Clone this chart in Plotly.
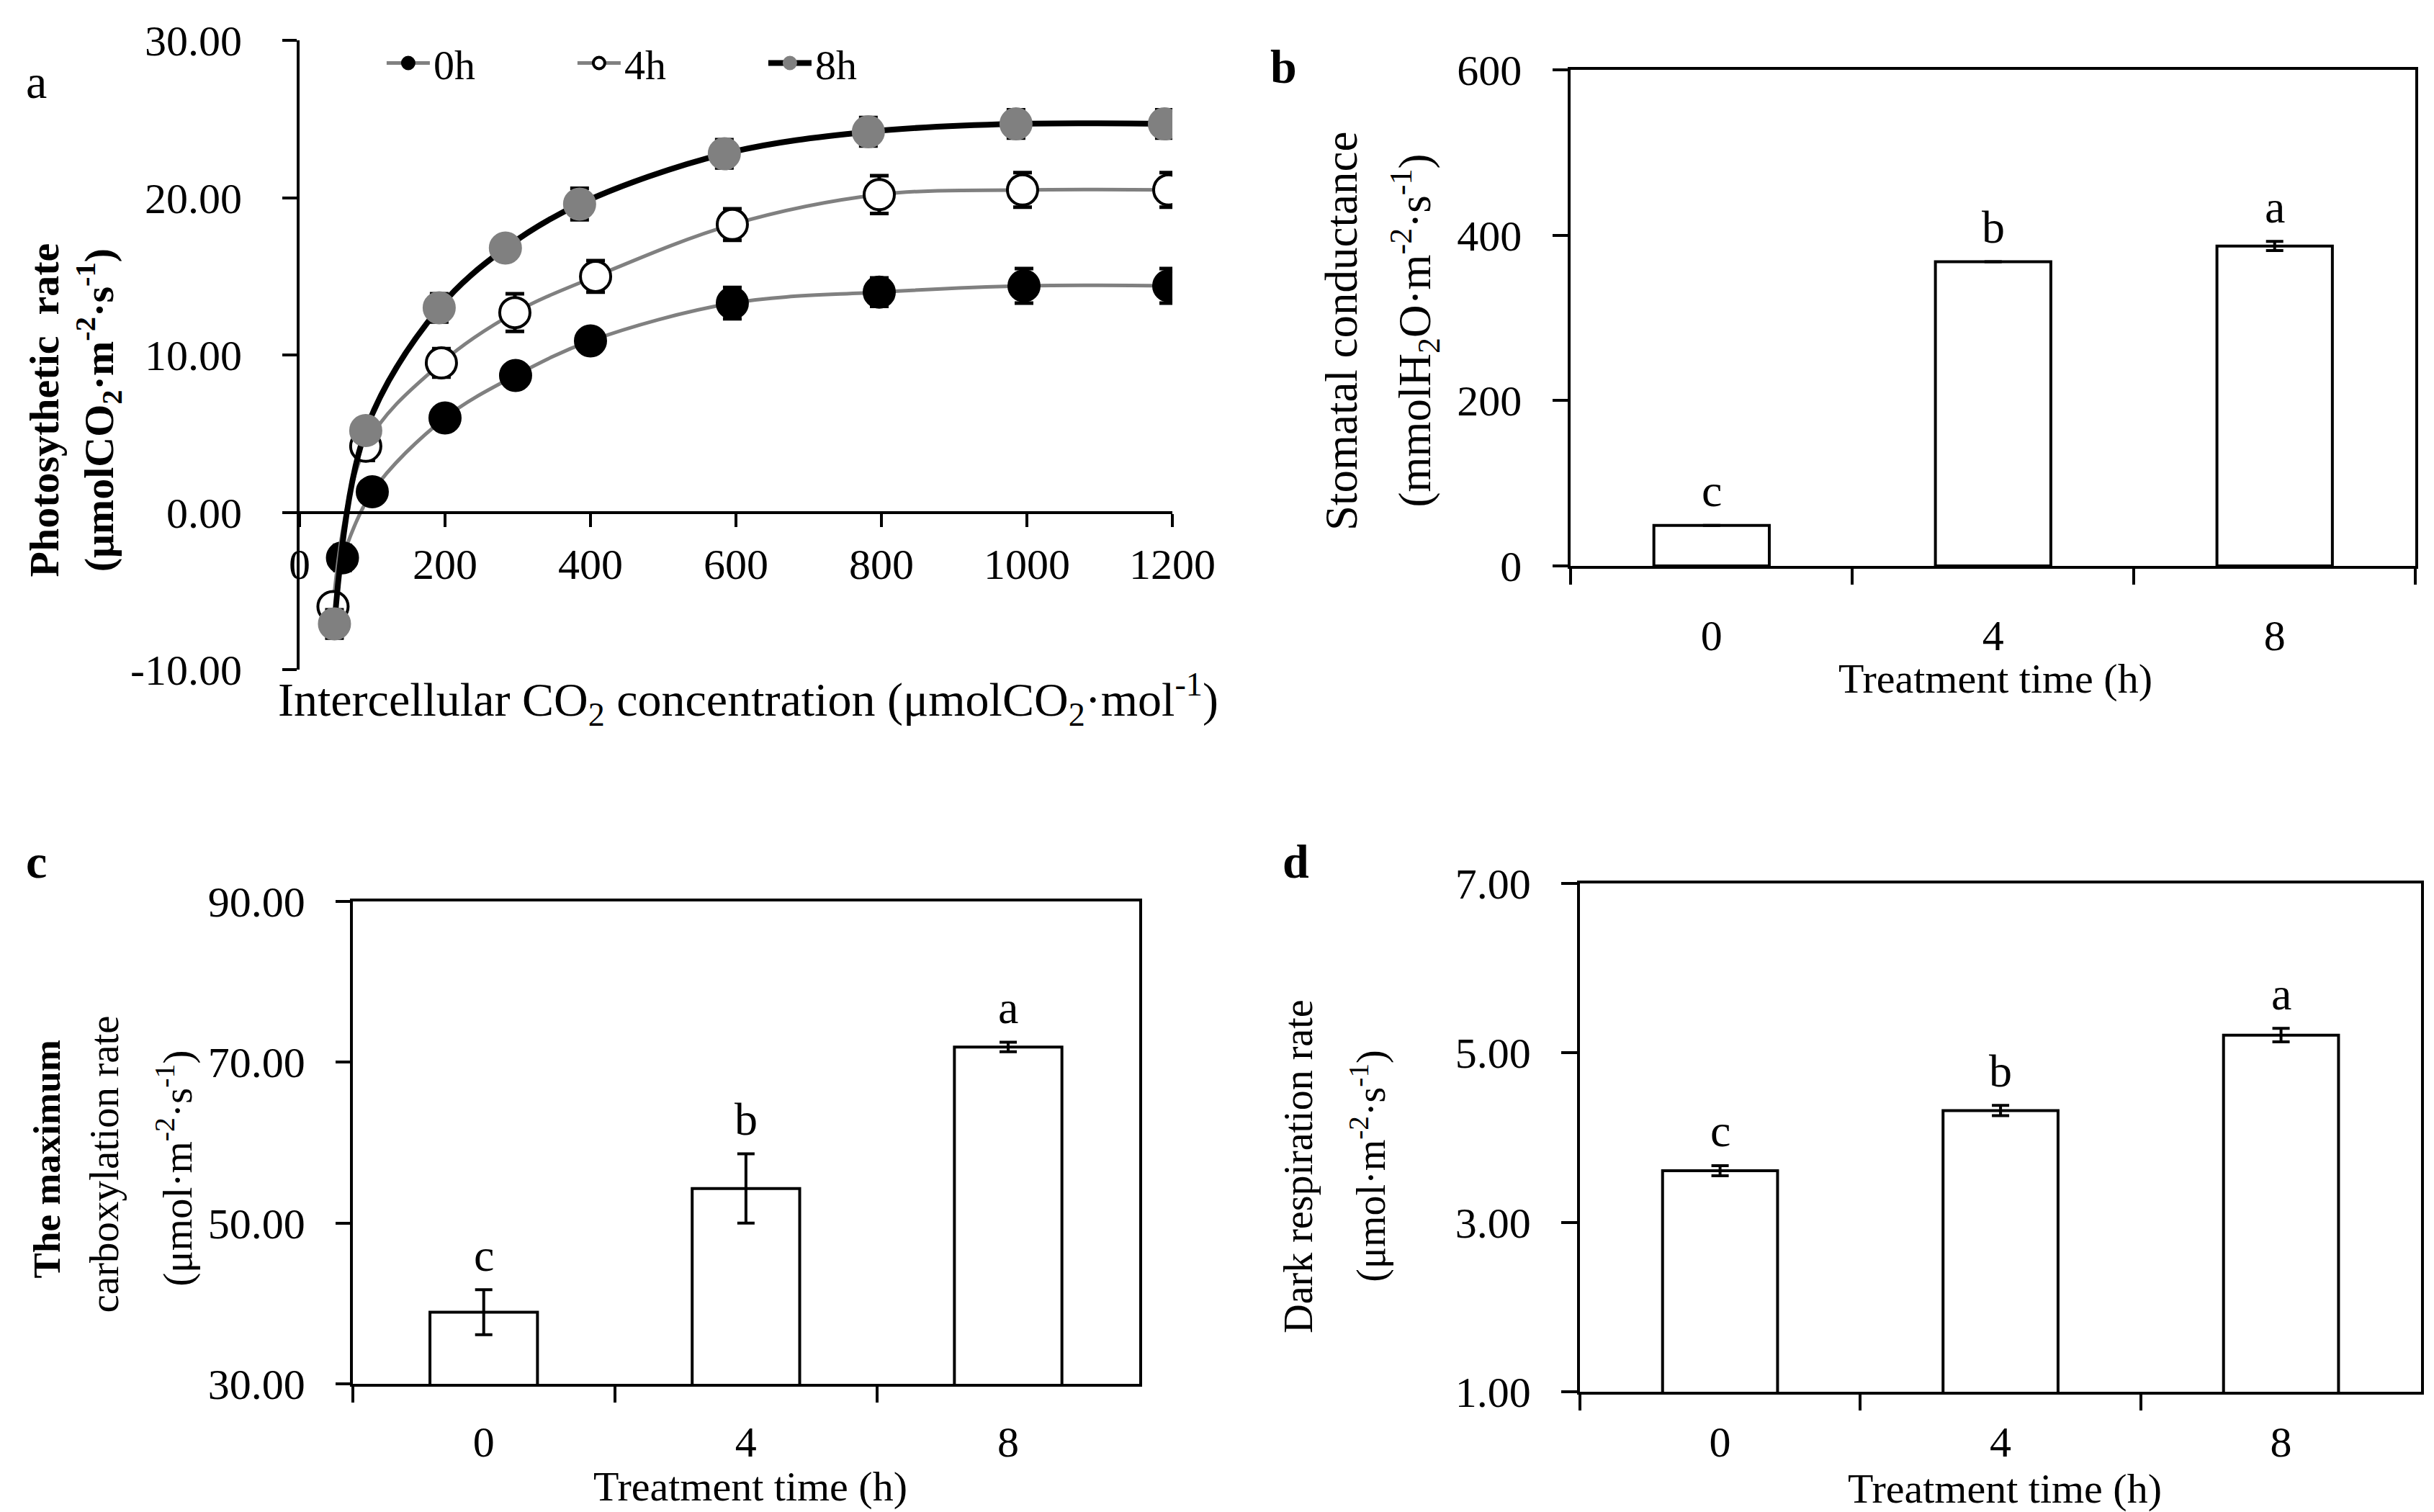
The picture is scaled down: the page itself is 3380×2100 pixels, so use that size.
import plotly.graph_objects as go

FONT = "Liberation Serif, Times New Roman, serif"
GRAY = "#808080"

# panel a: CO2 response curves
ci_0h = [59, 100, 200, 297, 400, 595, 797, 996, 1195]
pn_0h = [-2.9, 1.3, 6.0, 8.7, 10.9, 13.3, 14.0, 14.4, 14.4]
err_0h = [0.8, 0.6, 0.7, 0.7, 0.7, 1.0, 0.9, 1.1, 1.1]

ci_4h = [46, 91, 195, 296, 407, 595, 797, 994, 1195]
pn_4h = [-6.0, 4.2, 9.5, 12.7, 15.0, 18.3, 20.2, 20.5, 20.5]
err_4h = [0.6, 0.9, 0.9, 1.2, 1.0, 1.0, 1.2, 1.1, 1.1]

ci_8h = [48, 91, 192, 283, 385, 584, 782, 985, 1189]
pn_8h = [-7.1, 5.2, 13.0, 16.8, 19.6, 22.8, 24.2, 24.7, 24.7]
err_8h = [0.9, 0.5, 0.9, 0.6, 1.0, 0.9, 0.9, 0.9, 0.9]

a_yticks = [-10, 0, 10, 20, 30]
a_yticktext = ["-10.00", "0.00", "10.00", "20.00", "30.00"]
a_xticks = [0, 200, 400, 600, 800, 1000, 1200]

# panels b-d: bar charts
times = ["0", "4", "8"]
gs = [49, 368, 387]
gs_err = [0, 0, 5.5]
gs_letters = ["c", "b", "a"]

vcmax = [38.9, 54.3, 71.9]
vcmax_err = [2.8, 4.3, 0.6]
vcmax_letters = ["c", "b", "a"]

rd = [3.61, 4.32, 5.21]
rd_err = [0.06, 0.06, 0.08]
rd_letters = ["c", "b", "a"]

fig = go.Figure()

series = [
    ("0h", ci_0h, pn_0h, err_0h, GRAY, 5, "black", "black"),
    ("4h", ci_4h, pn_4h, err_4h, GRAY, 5, "white", "black"),
    ("8h", ci_8h, pn_8h, err_8h, "black", 8, GRAY, GRAY),
]
for name, xs, ys, es, line_color, lw, fill, edge in series:
    # error bars sit underneath the markers
    fig.add_trace(go.Scatter(
        x=xs, y=ys, mode="markers", xaxis="x", yaxis="y",
        marker=dict(size=2, color="rgba(0,0,0,0)"),
        error_y=dict(type="data", array=es, color="black", thickness=5, width=13),
        showlegend=False, hoverinfo="skip",
    ))
    fig.add_trace(go.Scatter(
        x=xs, y=ys, mode="lines+markers", name=name, xaxis="x", yaxis="y",
        line=dict(color=line_color, width=lw, shape="spline", smoothing=1.0),
        marker=dict(size=42, color=fill, line=dict(color=edge, width=4)),
    ))

bar_panels = [
    ("x2", "y2", gs, gs_err, gs_letters),
    ("x3", "y3", vcmax, vcmax_err, vcmax_letters),
    ("x4", "y4", rd, rd_err, rd_letters),
]
annotations = []
for xa, ya, vals, errs, letters in bar_panels:
    fig.add_trace(go.Bar(
        x=times, y=vals, xaxis=xa, yaxis=ya, showlegend=False,
        marker=dict(color="white", line=dict(color="black", width=4)),
        error_y=dict(type="data", array=errs, color="black", thickness=4, width=12),
    ))
    for i, (v, e, letter) in enumerate(zip(vals, errs, letters)):
        annotations.append(dict(
            x=i, y=v + e, xref=xa, yref=ya, text=letter, showarrow=False,
            yanchor="middle", yshift=48, font=dict(size=64, color="black", family=FONT),
        ))

axis_line = dict(showline=True, linecolor="black", linewidth=4, showgrid=False,
                 zeroline=False, tickcolor="black", tickwidth=4, automargin=False,
                 tickfont=dict(size=60, color="black", family=FONT))

ya_dom = [0.561, 0.977]
layout = dict(
    template="none",
    width=3380, height=2100,
    margin=dict(l=0, r=0, t=0, b=0, pad=0, autoexpand=False),
    paper_bgcolor="white", plot_bgcolor="white",
    font=dict(family=FONT, color="black"),
    bargap=0.59,
    xaxis=dict(axis_line, domain=[0.1207, 0.4793], range=[0, 1200], anchor="free",
               position=ya_dom[0] + 0.25 * (ya_dom[1] - ya_dom[0]),
               tickvals=a_xticks, ticks="outside", ticklen=18,
               ticklabelstandoff=0),
    yaxis=dict(axis_line, domain=ya_dom, range=[-10, 30], anchor="x",
               tickvals=a_yticks, ticktext=a_yticktext, ticks="outside",
               ticklen=20, ticklabelstandoff=44),
    xaxis2=dict(axis_line, domain=[0.643, 0.990], anchor="y2", type="category",
                range=[-0.5, 2.5], ticks="outside", tickson="boundaries", ticklen=22,
                mirror=True, ticklabelstandoff=41),
    yaxis2=dict(axis_line, domain=[0.6295, 0.9576], anchor="x2", range=[0, 600],
                tickvals=[0, 200, 400, 600], ticks="outside", ticklen=21, mirror=True,
                ticklabelstandoff=31),
    xaxis3=dict(axis_line, domain=[0.1425, 0.4657], anchor="y3", type="category",
                range=[-0.5, 2.5], ticks="outside", tickson="boundaries", ticklen=22,
                mirror=True, ticklabelstandoff=25),
    yaxis3=dict(axis_line, domain=[0.0886, 0.4076], anchor="x3", range=[30, 90],
                tickvals=[30, 50, 70, 90], tickformat=".2f", ticks="outside",
                ticklen=20, mirror=True, ticklabelstandoff=30),
    xaxis4=dict(axis_line, domain=[0.6467, 0.9924], anchor="y4", type="category",
                range=[-0.5, 2.5], ticks="outside", tickson="boundaries", ticklen=22,
                mirror=True, ticklabelstandoff=14),
    yaxis4=dict(axis_line, domain=[0.0833, 0.4195], anchor="x4", range=[1, 7],
                tickvals=[1, 3, 5, 7], tickformat=".2f", ticks="outside",
                ticklen=22, mirror=True, ticklabelstandoff=30),
    legend=dict(orientation="h", x=0.155, y=0.962, xanchor="left", yanchor="middle",
                font=dict(size=58, family=FONT, color="black"),
                bgcolor="rgba(0,0,0,0)", itemwidth=60, entrywidth=190,
                tracegroupgap=0),
)


def note(text, x, y, size, angle=0, bold=False):
    if bold:
        text = "<b>" + text + "</b>"
    return dict(text=text, x=x, y=y, xref="paper", yref="paper", showarrow=False,
                textangle=angle, xanchor="center", yanchor="middle",
                font=dict(size=size, family=FONT, color="black"))


nb = "\u00a0"
unit = "(μmol·m<sup>-2</sup>·s<sup>-1</sup>)"
annotations += [
    note("a", 0.0127, 0.950, 66),
    note("b", 0.525, 0.960, 66, bold=True),
    note("c", 0.0127, 0.434, 66, bold=True),
    note("d", 0.530, 0.434, 66, bold=True),
    note("Photosythetic" + nb + nb + "rate<br>(μmolCO<sub>2</sub>·m<sup>-2</sup>·s<sup>-1</sup>)",
         0.0284, 0.7326, 58, angle=-90, bold=True),
    note("Stomatal conductance", 0.549, 0.785, 63, angle=-90),
    note("(mmolH<sub>2</sub>O·m<sup>-2</sup>·s<sup>-1</sup>)", 0.579, 0.785, 63, angle=-90),
    note("The maximum", 0.0169, 0.237, 53, angle=-90, bold=True),
    note("carboxylation rate", 0.0405, 0.234, 57, angle=-90),
    note(unit, 0.0695, 0.231, 57, angle=-90),
    note("Dark respiration rate", 0.531, 0.2324, 56, angle=-90),
    note(unit, 0.560, 0.2324, 56, angle=-90),
    note("Intercellular CO<sub>2</sub> concentration (μmolCO<sub>2</sub>·mol<sup>-1</sup>)",
         0.305, 0.5414, 66),
    note("Treatment time (h)", 0.8175, 0.555, 58),
    note("Treatment time (h)", 0.3058, 0.0205, 58),
    note("Treatment time (h)", 0.8213, 0.0195, 58),
]
layout["annotations"] = annotations

fig.update_layout(**layout)
fig.write_html("out.html")
